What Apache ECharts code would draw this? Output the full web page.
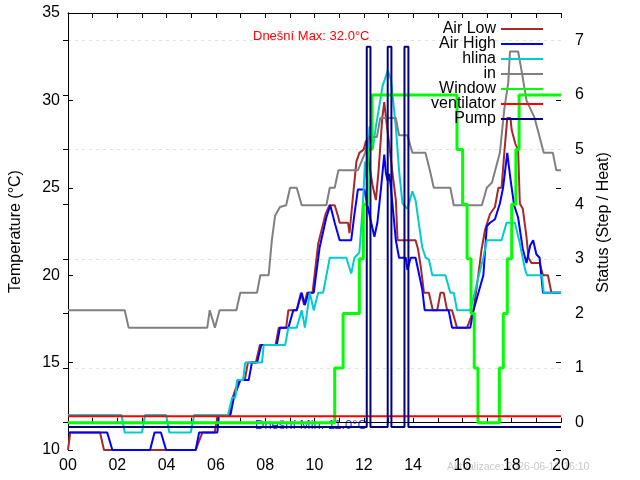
<!DOCTYPE html>
<html>
<head>
<meta charset="utf-8">
<script src="https://cdn.jsdelivr.net/npm/echarts@6/dist/echarts.min.js"></script>
<style>
  html, body { margin: 0; padding: 0; background: #fff; }
  #chart { width: 640px; height: 480px; }
</style>
</head>
<body>
<div id="chart"></div>
<script>
// [hodina, teplota °C]
var airLow = [[0,10],[0.09,11],[1.30,11],[1.46,10],[5.18,10],[5.45,11],[5.95,11],[6.08,12],[6.55,12],[6.68,13],[6.92,14],[7.17,14],[7.30,15],[7.62,15],[7.78,16],[8.42,16],[8.55,17],[8.85,17],[8.94,18],[9.28,18],[9.45,19],[9.58,18.3],[9.70,19],[9.92,19],[10.15,21.8],[10.45,23.5],[10.60,24],[10.82,24],[10.95,23.4],[11.02,23],[11.36,23],[11.42,22.4],[11.56,24.5],[11.70,26.5],[11.82,27],[12.0,27.2],[12.09,27.7],[12.20,26.5],[12.36,25.1],[12.49,24.3],[12.60,26],[12.75,29],[12.83,29.9],[12.90,29],[13.03,27.5],[13.15,26],[13.30,24.3],[13.37,22],[14.10,22],[14.20,21.5],[14.31,20.5],[14.44,19],[14.64,19],[14.80,18],[14.98,18],[15.11,19],[15.24,19],[15.38,18],[15.58,18],[15.78,17],[16.19,17],[16.35,17.6],[16.45,18],[16.60,19.5],[16.78,21.5],[16.92,22.6],[17.12,23.5],[17.32,23.9],[17.46,25],[17.59,25],[17.70,27],[17.82,29],[17.95,29],[18.0,28.3],[18.15,27.5],[18.26,27.2],[18.33,24.1],[18.45,23.8],[18.60,22.2],[18.68,21],[18.80,20.7],[19.13,20.7],[19.27,20],[19.47,20],[19.61,19],[20,19]];
var airHigh = [[0,11],[1.59,11],[1.80,10],[3.33,10],[3.51,11],[3.77,11],[3.98,10],[5.18,10],[5.32,11],[6.06,11],[6.12,12],[6.59,12],[6.73,13],[6.99,14],[7.33,14],[7.46,15],[7.67,15],[7.84,16],[8.47,16],[8.60,17],[8.94,17],[9.14,18],[9.28,18],[9.48,19],[9.61,18.3],[9.75,19],[9.97,19],[10.21,21.6],[10.48,23.3],[10.64,24],[10.72,24],[10.82,23],[11.02,22],[11.49,22],[11.62,23.5],[11.76,24.9],[12.02,24.9],[12.15,24],[12.30,23],[12.43,22.2],[12.55,23],[12.70,25],[12.83,26.9],[12.90,25.8],[12.97,25.4],[13.03,25.8],[13.10,25],[13.20,23.5],[13.30,22],[13.43,21],[13.70,21],[13.77,20.3],[13.90,21],[14.10,21],[14.25,20],[14.37,19.2],[14.47,18],[15.44,18],[15.58,17],[16.32,17],[16.45,18],[16.65,19],[16.85,20],[16.99,22.8],[17.12,23],[17.32,23.2],[17.52,24.1],[17.65,25],[17.82,27],[17.95,25.5],[18.10,24],[18.26,23.3],[18.45,21.5],[18.60,20.7],[18.75,21.7],[18.87,22],[19.0,21.2],[19.13,21],[19.27,19],[20,19]];
var hlina = [[0,12],[2.17,12],[2.30,11],[3.00,11],[3.13,12],[3.98,12],[4.11,11],[4.98,11],[5.12,12],[6.49,12],[6.66,13],[6.79,13],[6.86,14],[7.10,14],[7.19,15],[7.87,15],[7.94,16],[8.81,16],[8.94,17],[9.28,17],[9.48,18],[9.61,17],[9.81,19],[9.97,18],[10.15,19],[10.35,19],[10.62,21],[11.29,21],[11.49,20.1],[11.62,21],[11.82,21.3],[11.96,24],[12.05,26.5],[12.12,25.5],[12.23,28.5],[12.36,27.2],[12.49,28.5],[12.62,29.6],[12.76,30.8],[12.97,31.7],[13.10,31.2],[13.30,28.5],[13.43,26],[13.57,24.1],[13.77,23.8],[13.97,24.8],[14.10,24.3],[14.37,21.6],[14.51,21],[14.64,20.9],[14.78,20],[15.31,20],[15.51,19],[15.65,19],[15.78,18],[16.32,18],[16.50,19],[16.65,19.9],[16.85,21],[16.99,22],[17.59,22],[17.79,23],[18.13,23],[18.30,22],[18.55,20.3],[18.62,20],[19.23,20],[19.30,19],[20,19]];
var inside = [[0,18],[2.30,18],[2.46,17],[5.65,17],[5.75,18],[5.96,17],[6.15,18],[6.83,18],[6.99,19],[7.67,19],[7.80,20],[8.14,20],[8.27,22],[8.40,23.4],[8.60,23.9],[8.85,24],[9.01,25],[9.28,25],[9.48,24],[10.48,24],[10.62,25],[10.82,25],[10.97,26],[11.76,26],[12.05,27],[12.20,27.9],[12.53,27.9],[12.67,29],[13.30,29],[13.43,28],[13.77,28],[13.97,27],[14.50,27],[14.68,26],[14.84,25],[15.51,25],[15.65,24],[16.79,24],[16.99,25],[17.20,25.3],[17.52,27],[17.70,29.5],[17.86,31],[17.93,32.8],[18.26,32.8],[18.40,31.7],[18.60,30],[18.93,29],[19.30,27],[19.67,27],[19.81,26],[20,26]];

// [hodina, stav] - pravá osa
var windowSteps = [[0,0],[10.82,1],[11.16,2],[11.82,3],[11.98,4],[12.14,5],[12.33,6],[15.78,5],[16.01,4],[16.19,3],[16.35,2],[16.48,1],[16.63,0],[17.50,1],[17.66,2],[17.82,3],[18.0,4],[18.17,5],[18.30,6],[20,6]];
var ventilator = [[0,0.12],[20,0.12]];
var pump = [[0,-0.08],[12.12,6.88],[12.27,-0.08],[12.97,6.88],[13.12,-0.08],[13.65,6.88],[13.81,-0.08],[20,-0.08]];

var statusTicks = [0, 1, 2, 3, 4, 5, 6, 7];
var maxText = 'Dnešní Max: 32.0°C';
var minText = 'Dnešní Min: 11.0°C';
var updText = 'Aktualizace: 2026-06-16 16:10';

var font = "'Liberation Sans', Arial, sans-serif";
var chart = echarts.init(document.getElementById('chart'));

function line(name, data, color, width, yIdx, step) {
  return {
    name: name,
    type: 'line',
    data: data,
    yAxisIndex: yIdx,
    step: step || false,
    symbol: 'none',
    lineStyle: { color: color, width: width },
    itemStyle: { color: color }
  };
}

var option = {
  animation: false,
  backgroundColor: '#fff',
  grid: { left: 64, right: 79, top: 13, bottom: 30 },
  legend: {
    orient: 'vertical',
    right: 96,
    top: 21,
    align: 'right',
    padding: 0,
    itemGap: -1,
    itemWidth: 42,
    itemHeight: 15,
    selectedMode: false,
    itemStyle: { opacity: 0 },
    textStyle: { fontFamily: font, fontSize: 16, color: '#000', width: 82, align: 'right', lineHeight: 15 },
    data: ['Air Low', 'Air High', 'hlina', 'in', 'Window', 'ventilator', 'Pump']
  },
  xAxis: [{
    type: 'value', min: 0, max: 20, interval: 1, position: 'bottom',
    axisLine: { show: true, lineStyle: { color: '#000' } },
    axisTick: { show: true, inside: true, length: 5, lineStyle: { color: '#000' } },
    axisLabel: {
      color: '#000', fontFamily: font, fontSize: 16, margin: 8,
      formatter: function (v) { return v % 2 === 0 ? (v < 10 ? '0' + v : '' + v) : ''; }
    },
    splitLine: { show: false }
  }, {
    type: 'value', min: 0, max: 20, interval: 1, position: 'top',
    axisLine: { show: true, lineStyle: { color: '#000' } },
    axisTick: { show: true, inside: true, length: 5, lineStyle: { color: '#000' } },
    axisLabel: { show: false },
    splitLine: { show: false }
  }],
  yAxis: [{
    type: 'value', min: 10, max: 35, interval: 5, position: 'left',
    name: 'Temperature (°C)', nameLocation: 'middle', nameGap: 44, nameRotate: 90,
    nameTextStyle: { fontFamily: font, fontSize: 16, color: '#000' },
    axisLine: { show: true, lineStyle: { color: '#000' } },
    axisTick: { show: true, inside: true, length: 5, lineStyle: { color: '#000' } },
    axisLabel: { color: '#000', fontFamily: font, fontSize: 16, margin: 8 },
    splitLine: { show: false }
  }, {
    type: 'value', min: -0.5, max: 7.5, interval: 0.5, position: 'right',
    name: 'Status (Step / Heat)', nameLocation: 'middle', nameGap: 35, nameRotate: 90,
    nameTextStyle: { fontFamily: font, fontSize: 16, color: '#000', padding: [0, 0, 0, 18] },
    axisLine: { show: true, lineStyle: { color: '#000' } },
    axisTick: { show: true, inside: true, length: 5, customValues: statusTicks, lineStyle: { color: '#000' } },
    axisLabel: { color: '#000', fontFamily: font, fontSize: 16, margin: 14, customValues: statusTicks },
    splitLine: { show: true, lineStyle: { color: ['rgba(0,0,0,0)', '#e2e2e2'], type: [3, 4], width: 1 } }
  }, {
    type: 'value', min: 10, max: 35, interval: 5, position: 'right',
    axisLine: { show: false },
    axisTick: { show: true, inside: true, length: 5, lineStyle: { color: '#000' } },
    axisLabel: { show: false },
    splitLine: { show: false }
  }],
  graphic: [
    { type: 'text', left: 253, top: 30, style: { text: maxText, fill: '#ff0000', font: '13px ' + font } },
    { type: 'text', left: 255, top: 419, style: { text: minText, fill: '#3333ff', font: '13px ' + font } },
    { type: 'text', left: 447, top: 462, style: { text: updText, fill: '#c8c8c8', font: '10.5px ' + font } }
  ],
  series: [
    line('Air Low', airLow, '#a52a2a', 2, 0),
    line('Air High', airHigh, '#0000ff', 2, 0),
    line('hlina', hlina, '#00cccc', 2, 0),
    line('in', inside, '#808080', 2, 0),
    line('Window', windowSteps, '#00ff00', 3, 1, 'end'),
    line('ventilator', ventilator, '#ff0000', 2, 1),
    line('Pump', pump, '#000080', 2, 1, 'end')
  ]
};

chart.setOption(option);
</script>
</body>
</html>
